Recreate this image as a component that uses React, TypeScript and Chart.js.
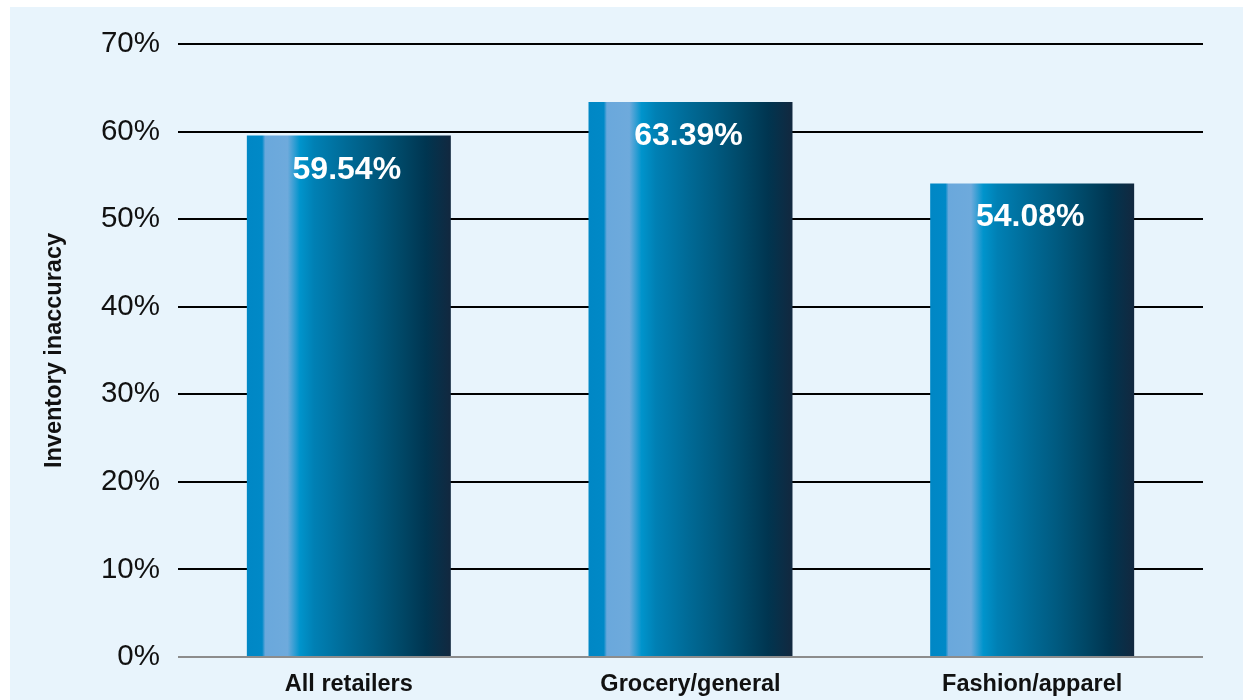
import React, { useEffect, useRef } from "react";
import { Chart, registerables } from "chart.js";

Chart.register(...registerables);

// ---- data ----
const categories = ["All retailers", "Grocery/general", "Fashion/apparel"];
const inaccuracy = [59.54, 63.39, 54.08];
const yMin = 0;
const yMax = 70;
const yStep = 10;
const yAxisTitle = "Inventory inaccuracy";

// ---- styles ----
const FONT = "'Liberation Sans', Arial, Helvetica, sans-serif";
const BAR_PCT = 0.597;
const PAGE_BG = "#ffffff";
const PANEL_BG = "#e8f4fc";
const gradientStops: [number, string][] = [
  [0, "#0087c5"],
  [0.075, "#0089c7"],
  [0.09, "#6aa8dc"],
  [0.2, "#6eaadc"],
  [0.26, "#0094cc"],
  [0.33, "#0080b4"],
  [0.49, "#006a96"],
  [0.62, "#005a80"],
  [0.76, "#004766"],
  [0.88, "#003550"],
  [1, "#12283f"],
];

const backgroundPlugin = {
  id: "panelBg",
  beforeDraw(chart: any) {
    const { ctx, width, height } = chart;
    ctx.save();
    ctx.fillStyle = PAGE_BG;
    ctx.fillRect(0, 0, width, height);
    ctx.fillStyle = PANEL_BG;
    ctx.fillRect(10, 7, width - 10, height - 7);
    ctx.restore();
  },
};

const valueLabelPlugin = {
  id: "valueLabels",
  afterDatasetsDraw(chart: any) {
    const { ctx } = chart;
    const meta = chart.getDatasetMeta(0);
    ctx.save();
    ctx.fillStyle = "#ffffff";
    ctx.font = `bold 32px ${FONT}`;
    ctx.textAlign = "center";
    ctx.textBaseline = "alphabetic";
    meta.data.forEach((bar: any, i: number) => {
      ctx.fillText(inaccuracy[i].toFixed(2) + "%", bar.x - 2, bar.y + 43);
    });
    ctx.restore();
  },
};

export default function App() {
  const canvasRef = useRef<HTMLCanvasElement | null>(null);

  useEffect(() => {
    document.body.style.margin = "0";
    const canvas = canvasRef.current;
    if (!canvas) return;
    const chart = new Chart(canvas, {
      type: "bar",
      data: {
        labels: categories,
        datasets: [
          {
            data: inaccuracy,
            borderWidth: 0,
            categoryPercentage: 1,
            barPercentage: BAR_PCT,
            backgroundColor: (c: any) => {
              const ch = c.chart;
              const xs = ch.scales && ch.scales.x;
              if (!xs || c.type !== "data" || !xs.width) return "#0077a8";
              const cx = xs.getPixelForTick(c.dataIndex);
              const half = ((xs.width / categories.length) * BAR_PCT) / 2;
              const g = ch.ctx.createLinearGradient(cx - half, 0, cx + half, 0);
              gradientStops.forEach(([o, col]) => g.addColorStop(o, col));
              return g;
            },
          },
        ],
      },
      options: {
        responsive: false,
        animation: false,
        devicePixelRatio: 1,
        layout: { padding: { left: 0, right: 40, top: 44, bottom: 0 } },
        plugins: {
          legend: { display: false },
          tooltip: { enabled: false },
        },
        scales: {
          x: {
            grid: { display: false, drawTicks: false },
            border: { display: false },
            ticks: {
              color: "#111111",
              padding: 13,
              font: { family: FONT, size: 23.5, weight: "bold" },
              maxRotation: 0,
            },
            afterFit(scale: any) {
              scale.height = 43;
            },
          },
          y: {
            min: yMin,
            max: yMax,
            grid: {
              drawTicks: false,
              lineWidth: 2,
              color: (c: any) => (c.tick && c.tick.value === 0 ? "#8c8c8c" : "#000000"),
            },
            border: { display: false },
            ticks: {
              stepSize: yStep,
              padding: 18,
              color: "#111111",
              font: { family: FONT, size: 29.5 },
              callback: (v: any) => v + "%",
            },
            title: {
              display: true,
              text: yAxisTitle,
              color: "#111111",
              font: { family: FONT, size: 23.5, weight: "bold" },
              padding: { top: 40, bottom: 0 },
            },
            afterFit(scale: any) {
              scale.width = 178;
            },
          },
        },
      },
      plugins: [backgroundPlugin, valueLabelPlugin],
    });
    return () => chart.destroy();
  }, []);

  return (
    <div style={{ width: 1243, height: 700 }}>
      <canvas ref={canvasRef} width={1243} height={700} style={{ display: "block" }} />
    </div>
  );
}
